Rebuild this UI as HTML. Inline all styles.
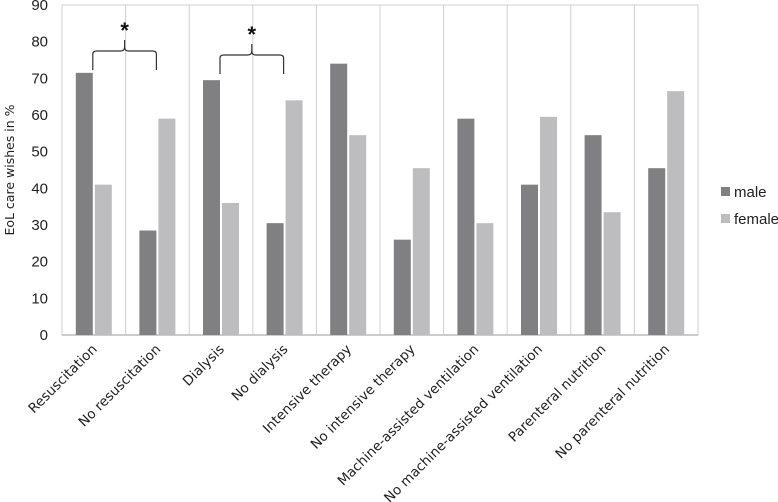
<!DOCTYPE html>
<html><head><meta charset="utf-8"><style>
body{margin:0;background:#fff}
svg{display:block;font-family:"Liberation Sans",sans-serif}
</style></head><body>
<svg id="chart" width="778" height="502" viewBox="0 0 778 502" xmlns="http://www.w3.org/2000/svg"></svg>
<script>
const categories=["Resuscitation","No resuscitation","Dialysis","No dialysis","Intensive therapy","No intensive therapy","Machine-assisted ventilation","No machine-assisted ventilation","Parenteral nutrition","No parenteral nutrition"];
const maleValues=[71.5,28.5,69.5,30.5,74,26,59,41,54.5,45.5];
const femaleValues=[41,59,36,64,54.5,45.5,30.5,59.5,33.5,66.5];
const yTicks=[0,10,20,30,40,50,60,70,80,90];
const seriesNames=["male","female"];

const NS="http://www.w3.org/2000/svg";
const svg=document.getElementById('chart');
const L=62,R=698,T=5,B=335,YMAX=90;
const bw=(R-L)/categories.length;
function y(v){return B-(v/YMAX)*(B-T);}
function xc(i){return L+bw*(i+0.5);}
function el(tag,attrs,parent){const e=document.createElementNS(NS,tag);for(const k in attrs)e.setAttribute(k,attrs[k]);(parent||svg).appendChild(e);return e;}

const frame=el('rect',{x:L,y:T,width:R-L,height:B-T,fill:'none',stroke:'#d0d0d0','stroke-width':1});


for(let i=1;i<categories.length;i++){
  const ln=el('line',{x1:L+bw*i,x2:L+bw*i,y1:T,y2:B,stroke:'#d0d0d0','stroke-width':1});
  
  
}
const ax=el('line',{x1:L,x2:R,y1:B,y2:B,stroke:'#bbb','stroke-width':1.5});



yTicks.forEach(t=>{
  const tx=el('text',{x:48,y:y(t)+5,'text-anchor':'end','font-size':15,fill:'#222'});
  tx.textContent=t;
  
  
});
const yt=el('text',{transform:'translate(14,'+((T+B)/2)+') rotate(-90)','text-anchor':'middle','font-size':12.5,fill:'#222','font-family':'DejaVu Sans, sans-serif'});
yt.textContent='EoL care wishes in %';



const barW=17,gap=2;
categories.forEach((c,i)=>{
  const cx=xc(i);
  const m=el('rect',{x:cx-gap/2-barW,y:y(maleValues[i]),width:barW,height:B-y(maleValues[i]),fill:'#808083'});
  
  
  const f=el('rect',{x:cx+gap/2,y:y(femaleValues[i]),width:barW,height:B-y(femaleValues[i]),fill:'#bdbdbf'});
  
  
  const lx=cx+4,ly=350;
  const lb=el('text',{x:lx,y:ly,transform:'rotate(-45 '+lx+' '+ly+')','text-anchor':'end','font-size':13.5,fill:'#222','font-family':'DejaVu Sans, sans-serif'});
  lb.textContent=c;
  
  
});

[[0,1,40],[2,3,44]].forEach(([a,b,top])=>{
  const x1=xc(a)-gap/2,x2=xc(b)-gap/2,mx=(x1+x2)/2,yb=top+11,yl=top+30;
  const p=el('path',{d:`M${x1},${yl} L${x1},${yb+3} Q${x1},${yb} ${x1+4},${yb} L${mx-4},${yb} Q${mx},${yb} ${mx},${yb-4} L${mx},${top} M${mx},${yb-4} Q${mx},${yb} ${mx+4},${yb} L${x2-4},${yb} Q${x2},${yb} ${x2},${yb+3} L${x2},${yl}`,fill:'none',stroke:'#333','stroke-width':1.2});
  
  
  const s=el('text',{x:mx,y:top-2,'text-anchor':'middle','font-size':22,'font-weight':'bold',fill:'#111'});
  s.textContent='*';
  
  
});

const colors=['#808083','#bdbdbf'];
seriesNames.forEach((n,i)=>{
  const ly=187+i*27;
  const sw=el('rect',{x:721,y:ly,width:9,height:9,fill:colors[i]});
  
  
  const t=el('text',{x:734,y:ly+10,'font-size':15,fill:'#222'});
  t.textContent=n;
  
  
});
</script>
</body></html>
